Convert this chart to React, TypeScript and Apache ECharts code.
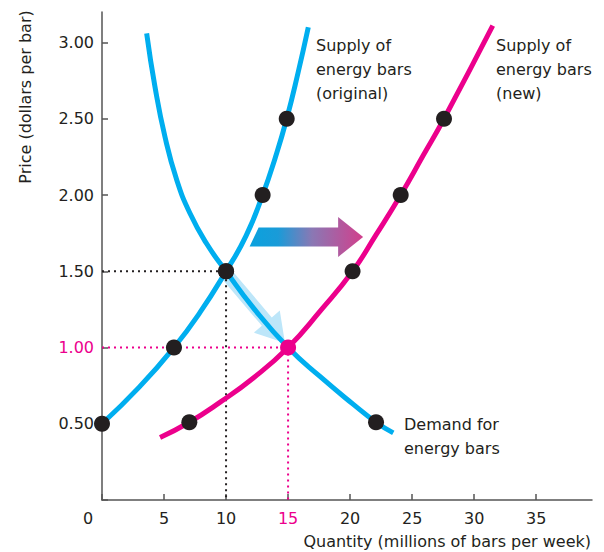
import React, { useEffect, useRef } from "react";
import * as echarts from "echarts";

// ---- data ----
const xTickValues = [0, 5, 10, 15, 20, 25, 30, 35];
const yTickValues = [0.5, 1, 1.5, 2, 2.5, 3];
const yTickLabels = ["0.50", "1.00", "1.50", "2.00", "2.50", "3.00"];

const supplyOriginalCurve = [
  [0, 0.5], [3.0, 0.74], [5.8, 1.0], [7.9, 1.23], [10, 1.5], [11.6, 1.73],
  [12.95, 2.0], [13.95, 2.24], [14.89, 2.5], [15.8, 2.8], [16.63, 3.1],
];
const supplyOriginalPoints = [[0, 0.5], [5.8, 1.0], [10, 1.5], [12.95, 2.0], [14.89, 2.5]];

const supplyNewCurve = [
  [4.68, 0.41], [7.04, 0.51], [9.5, 0.64], [12.2, 0.8], [15, 1.0], [17.6, 1.24],
  [20.2, 1.5], [22.1, 1.74], [24.08, 2.0], [25.9, 2.26], [27.57, 2.5], [31.5, 3.11],
];
const supplyNewPoints = [[7.04, 0.51], [20.2, 1.5], [24.08, 2.0], [27.57, 2.5]];

const demandCurve = [
  [3.6, 3.06], [4.27, 2.71], [5.08, 2.38], [6.02, 2.1], [7.09, 1.88], [8.44, 1.68], [10, 1.5],
  [12.2, 1.26], [15, 1.0], [17.57, 0.81], [20.26, 0.627], [22.09, 0.51], [23.48, 0.44],
];
const demandPoints = [[10, 1.5], [22.09, 0.51]];

const originalEquilibrium = [10, 1.5];
const newEquilibrium = [15, 1.0];

const BLUE = "#00aeef";
const PINK = "#ec008c";
const DARK = "#231f20";
const FONT = "DejaVu Sans";

export default function App() {
  const ref = useRef<HTMLDivElement>(null);

  useEffect(() => {
    if (!ref.current) return;
    document.body.style.margin = "0";
    const chart = echarts.init(ref.current, undefined, { renderer: "svg" });

    const dotted = (color: string) => ({
      type: "line",
      symbol: "none",
      silent: true,
      z: 1,
      lineStyle: { color, width: 2, type: [2, 4] },
    });

    const option: any = {
      animation: false,
      grid: { left: 102, top: 12, width: 490, height: 488 },
      xAxis: {
        type: "value",
        min: 0,
        max: 39.5,
        interval: 5,
        splitLine: { show: false },
        axisLine: { lineStyle: { color: "#555", width: 1.5 } },
        axisTick: { inside: true, length: 6, lineStyle: { color: "#555", width: 1.5 } },
        axisLabel: {
          margin: 10,
          fontFamily: FONT,
          fontSize: 16,
          color: DARK,
          showMaxLabel: false,
          formatter: (v: number) => {
            if (!xTickValues.includes(v) || v === 0) return "";
            if (v === newEquilibrium[0]) return `{p|${v}}`;
            return String(v);
          },
          rich: { p: { color: PINK, fontFamily: FONT, fontSize: 16 } },
        },
      },
      yAxis: {
        type: "value",
        min: 0,
        max: 3.2,
        interval: 0.5,
        splitLine: { show: false },
        axisLine: { lineStyle: { color: "#555", width: 1.5 } },
        axisTick: { inside: true, length: 6, lineStyle: { color: "#555", width: 1.5 } },
        axisLabel: {
          margin: 8,
          fontFamily: FONT,
          fontSize: 16,
          color: DARK,
          showMaxLabel: false,
          formatter: (v: number) => {
            const i = yTickValues.indexOf(v);
            if (i < 0) return "";
            if (v === newEquilibrium[1]) return `{p|${yTickLabels[i]}}`;
            return yTickLabels[i];
          },
          rich: { p: { color: PINK, fontFamily: FONT, fontSize: 16 } },
        },
      },
      series: [
        { ...dotted(DARK), data: [[0, originalEquilibrium[1]], originalEquilibrium, [originalEquilibrium[0], 0]] },
        { ...dotted(PINK), data: [[0, newEquilibrium[1]], newEquilibrium, [newEquilibrium[0], 0]] },
        {
          type: "line", data: demandCurve, smooth: 0.5, symbol: "none", z: 3,
          lineStyle: { color: BLUE, width: 5 },
        },
        {
          type: "line", data: supplyOriginalCurve, smooth: 0.5, symbol: "none", z: 3,
          lineStyle: { color: BLUE, width: 5 },
        },
        {
          type: "line", data: supplyNewCurve, smooth: 0.5, symbol: "none", z: 3,
          lineStyle: { color: PINK, width: 5 },
        },
        {
          type: "scatter", data: [...supplyOriginalPoints, ...supplyNewPoints, ...demandPoints],
          symbolSize: 16, itemStyle: { color: DARK, opacity: 1 }, z: 5,
        },
        {
          type: "scatter", data: [newEquilibrium], symbolSize: 16, itemStyle: { color: PINK, opacity: 1 }, z: 6,
        },
      ],
    };
    chart.setOption(option);

    const px = (x: number, y: number) => chart.convertToPixel({ gridIndex: 0 }, [x, y]) as number[];

    // horizontal shift arrow
    const hs = px(11.9, 1.725);
    const ht = px(21.05, 1.725);
    const sh = 9.5, hh = 20, hl = 25, slant = 9;
    const hArrow = [
      [hs[0] + slant, hs[1] - sh], [ht[0] - hl, hs[1] - sh], [ht[0] - hl, hs[1] - hh], [ht[0], hs[1]],
      [ht[0] - hl, hs[1] + hh], [ht[0] - hl, hs[1] + sh], [hs[0], hs[1] + sh],
    ];

    // diagonal movement arrow
    const ds = px(10.15, 1.47);
    const dt = px(14.75, 1.03);
    const dx = dt[0] - ds[0], dy = dt[1] - ds[1];
    const len = Math.hypot(dx, dy);
    const ux = dx / len, uy = dy / len;
    const nx = -uy, ny = ux;
    const dsh = 6.5, dhh = 17, dhl = 28;
    const bx = dt[0] - ux * dhl, by = dt[1] - uy * dhl;
    const dArrow = [
      [ds[0] + nx * dsh, ds[1] + ny * dsh], [bx + nx * dsh, by + ny * dsh], [bx + nx * dhh, by + ny * dhh],
      [dt[0], dt[1]], [bx - nx * dhh, by - ny * dhh], [bx - nx * dsh, by - ny * dsh], [ds[0] - nx * dsh, ds[1] - ny * dsh],
    ];

    const o = px(0, 0);
    const textStyle = { fontFamily: FONT, fontSize: 16, fill: DARK, lineHeight: 24 };

    chart.setOption({
      graphic: [
        {
          type: "polygon", z: 1, silent: true,
          shape: { points: hArrow },
          style: {
            fill: new echarts.graphic.LinearGradient(0, 0, 1, 0, [
              { offset: 0, color: "#0aa2de" },
              { offset: 0.25, color: "#1a9bd8" },
              { offset: 0.55, color: "#8a78b4" },
              { offset: 1, color: "#d23f8c" },
            ]),
          },
        },
        {
          type: "polygon", z: 1, silent: true,
          shape: { points: dArrow },
          style: { fill: "#bde6f9" },
        },
        { type: "text", silent: true, style: { ...textStyle, text: "Supply of\nenergy bars\n(original)", x: 316, y: 33, verticalAlign: "top" } },
        { type: "text", silent: true, style: { ...textStyle, text: "Supply of\nenergy bars\n(new)", x: 496, y: 33, verticalAlign: "top" } },
        { type: "text", silent: true, style: { ...textStyle, text: "Demand for\nenergy bars", x: 404, y: 412, verticalAlign: "top" } },
        { type: "text", silent: true, style: { ...textStyle, text: "0", x: o[0] - 14, y: o[1] + 18, align: "center", verticalAlign: "middle" } },
        {
          type: "text", silent: true, x: 591, y: 541,
          style: { ...textStyle, text: "Quantity (millions of bars per week)", align: "right", verticalAlign: "middle" },
        },
        {
          type: "text", silent: true, x: 25, y: 97, rotation: Math.PI / 2,
          style: { ...textStyle, text: "Price (dollars per bar)", align: "center", verticalAlign: "middle" },
        },
      ],
    });

    return () => chart.dispose();
  }, []);

  return <div ref={ref} style={{ width: 604, height: 552 }} />;
}
